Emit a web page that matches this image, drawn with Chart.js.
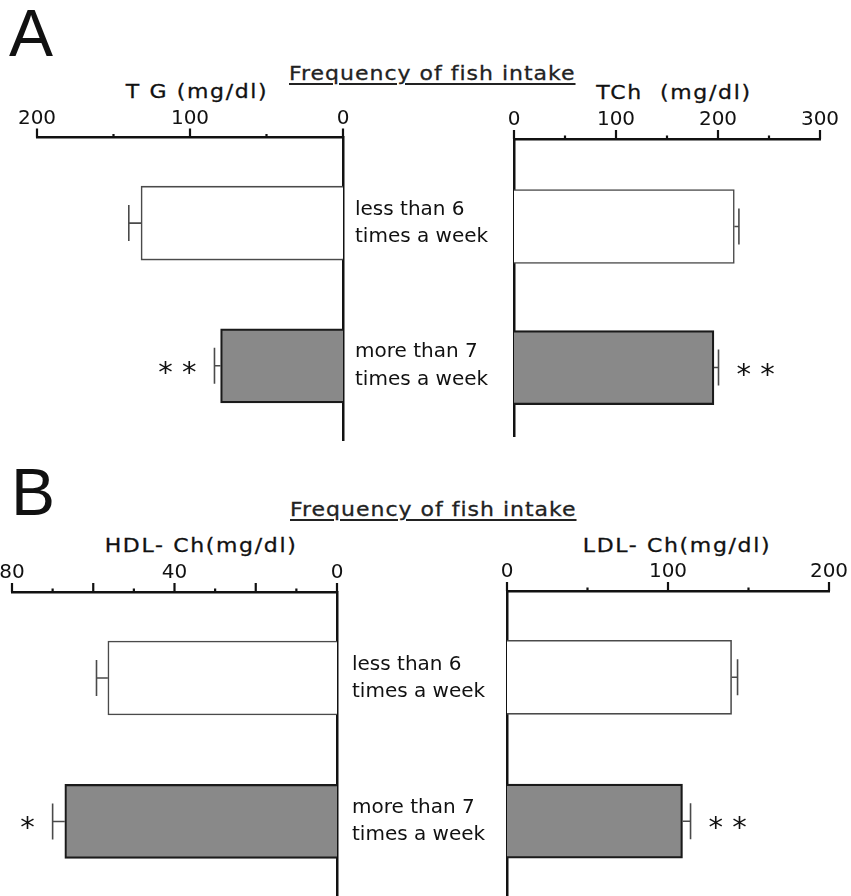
<!DOCTYPE html>
<html><head><meta charset="utf-8">
<script src="https://cdn.jsdelivr.net/npm/chart.js@4.4.1/dist/chart.umd.min.js"></script>
<style>
html,body{margin:0;padding:0;background:#fff;}
#wrap{position:relative;width:851px;height:896px;overflow:hidden;background:#fff;font-family:"DejaVu Sans",sans-serif;color:#111;}
canvas{position:absolute;}
.t{position:absolute;white-space:pre;line-height:1;transform:translate(-50%,-50%) scaleX(1.1);font-size:20px;letter-spacing:1.5px;-webkit-text-stroke:0.3px #111;}
.panel{position:absolute;font-family:"Liberation Sans",Arial,sans-serif;font-size:66px;line-height:1;color:#111;}
.head{position:absolute;font-size:20px;letter-spacing:0.9px;text-decoration:underline;text-underline-offset:3px;line-height:1;white-space:pre;color:#222;transform:scaleX(1.1);transform-origin:0 50%;-webkit-text-stroke:0.3px #222;}
</style></head>
<body><div id="wrap">
<div class="panel" style="left:9px;top:0px;">A</div>
<div class="panel" style="left:11px;top:459px;">B</div>
<div class="head" style="left:289px;top:63px;">Frequency of fish intake</div>
<div class="head" style="left:290px;top:499px;">Frequency of fish intake</div>
<div class="t" style="left:197px;top:91px;">T G (mg/dl)</div>
<div class="t" style="left:674px;top:92px;">TCh  (mg/dl)</div>
<div class="t" style="left:201px;top:545px;">HDL- Ch(mg/dl)</div>
<div class="t" style="left:677px;top:545px;">LDL- Ch(mg/dl)</div>
<canvas id="cA1" width="520" height="445" style="left:0;top:0;"></canvas>
<canvas id="cA2" width="381" height="445" style="left:470px;top:0;"></canvas>
<canvas id="cB1" width="520" height="446" style="left:0;top:450px;"></canvas>
<canvas id="cB2" width="381" height="446" style="left:470px;top:450px;"></canvas>
</div>
<script>
// ---- data ----
const categories = [['less than 6', 'times a week'], ['more than 7', 'times a week']];

const tgValues = [132, 80];
const tgErrors = [8, 4];
const tgStars = ['', '**'];

const tchValues = [216, 196];
const tchErrors = [4.5, 4.5];
const tchStars = ['', '**'];

const hdlValues = [56.4, 67.0];
const hdlErrors = [2.8, 3.0];
const hdlStars = ['', '*'];

const ldlValues = [139.5, 109];
const ldlErrors = [3.7, 5];
const ldlStars = ['', '**'];

const tgTickLabels = [0, 100, 200];
const tgMinorTicks = [50, 150];
const tchTickLabels = [0, 100, 200, 300];
const tchMinorTicks = [50, 150, 250];
const hdlTickLabels = [0, 40, 80];
const hdlMajorTicks = [0, 20, 40, 60, 80];
const hdlMinorTicks = [10, 30, 50, 70];
const ldlTickLabels = [0, 100, 200];
const ldlMinorTicks = [50, 150];

// ---- chart builder ----
function makeDecor(values, errors, stars, majors, minors) {
  return {
    id: 'decor',
    afterDraw(chart) {
      const ctx = chart.ctx;
      const xs = chart.scales.x, ys = chart.scales.y;
      ctx.save();
      // axis tick marks
      ctx.strokeStyle = '#111';
      ctx.lineWidth = 2.2;
      const yAxis = xs.bottom;
      ctx.beginPath();
      majors.forEach(v => { const px = xs.getPixelForValue(v); ctx.moveTo(px, yAxis); ctx.lineTo(px, yAxis - 9); });
      minors.forEach(v => { const px = xs.getPixelForValue(v); ctx.moveTo(px, yAxis); ctx.lineTo(px, yAxis - 3.5); });
      ctx.stroke();
      // error bars and significance marks
      values.forEach((v, i) => {
        const yc = ys.getPixelForValue(i);
        const x0 = xs.getPixelForValue(v);
        const x1 = xs.getPixelForValue(v + errors[i]);
        ctx.strokeStyle = '#4a4a4a';
        ctx.lineWidth = 1.6;
        ctx.beginPath();
        ctx.moveTo(x0, yc); ctx.lineTo(x1, yc);
        ctx.moveTo(x1, yc - 18); ctx.lineTo(x1, yc + 18);
        ctx.stroke();
        if (stars[i]) {
          const dir = x1 > x0 ? 1 : -1;
          ctx.fillStyle = '#111';
          ctx.font = '29px "DejaVu Sans"';
          ctx.textAlign = dir > 0 ? 'left' : 'right';
          ctx.textBaseline = 'alphabetic';
          ctx.fillText(stars[i].split('').join(' '), x1 + dir * 18, yc + 16);
        }
      });
      ctx.restore();
    }
  };
}

function makeChart(id, o) {
  const majors = o.majors;
  const minors = o.minors;
  const allTicks = majors.concat(minors).sort((a, b) => a - b);
  return new Chart(document.getElementById(id), {
    type: 'bar',
    data: {
      datasets: [{
        data: o.values.map((v, i) => ({ x: v, y: i })),
        backgroundColor: ['#ffffff', '#898989'],
        borderColor: ['#4a4a4a', '#1a1a1a'],
        borderWidth: [1.6, 2.2],
        barThickness: 74,
        borderSkipped: 'start'
      }]
    },
    options: {
      indexAxis: 'y',
      responsive: false,
      animation: false,
      events: [],
      layout: { padding: o.padding },
      plugins: { legend: { display: false }, tooltip: { enabled: false } },
      scales: {
        x: {
          type: 'linear', position: 'top', reverse: o.reverse, min: 0, max: o.max,
          afterBuildTicks: s => { s.ticks = allTicks.map(v => ({ value: v })); },
          ticks: {
            autoSkip: false, maxRotation: 0, padding: 0, color: '#111',
            font: { family: 'DejaVu Sans', size: 20, lineHeight: 1 },
            callback: v => o.labels.includes(v) ? String(v) : ''
          },
          grid: { display: false, drawTicks: true, tickLength: 9 },
          border: { display: true, color: '#111', width: 2.5 },
          afterFit: s => { s.height = o.xHeight; s.paddingLeft = 0; s.paddingRight = 0; }
        },
        y: {
          type: 'linear', position: o.yPos, reverse: true, min: o.yMin, max: o.yMax, offset: false,
          afterBuildTicks: s => { s.ticks = categories.map((c, i) => ({ value: i })); },
          ticks: {
            display: o.showCats, autoSkip: false, padding: o.catPad || 12, color: '#111',
            font: { family: 'DejaVu Sans', size: 20, lineHeight: 1.37 },
            callback: v => categories[v]
          },
          grid: { display: false, drawTicks: false },
          border: { display: true, color: '#111', width: 2.5 },
          afterFit: s => { s.width = o.yWidth; s.paddingTop = 0; s.paddingBottom = 0; }
        }
      }
    },
    plugins: [makeDecor(o.values, o.errors, o.stars, majors, minors)]
  });
}

makeChart('cA1', {
  values: tgValues, errors: tgErrors, stars: tgStars, reverse: true, max: 200,
  labels: tgTickLabels, majors: tgTickLabels, minors: tgMinorTicks,
  padding: { left: 37, top: 0, right: 0, bottom: 5 }, xHeight: 137.5, yWidth: 177,
  yPos: 'right', showCats: true, catPad: 12, yMin: -0.6, yMax: 1.52
});
makeChart('cA2', {
  values: tchValues, errors: tchErrors, stars: tchStars, reverse: false, max: 300,
  labels: tchTickLabels, majors: tchTickLabels, minors: tchMinorTicks,
  padding: { left: 0, top: 0, right: 31, bottom: 9 }, xHeight: 139, yWidth: 44,
  yPos: 'left', showCats: false, yMin: -0.62, yMax: 1.485
});
makeChart('cB1', {
  values: hdlValues, errors: hdlErrors, stars: hdlStars, reverse: true, max: 80,
  labels: hdlTickLabels, majors: hdlMajorTicks, minors: hdlMinorTicks,
  padding: { left: 12, top: 0, right: 0, bottom: 0 }, xHeight: 142, yWidth: 183,
  yPos: 'right', showCats: true, catPad: 15, yMin: -0.6, yMax: 1.52
});
makeChart('cB2', {
  values: ldlValues, errors: ldlErrors, stars: ldlStars, reverse: false, max: 200,
  labels: ldlTickLabels, majors: ldlTickLabels, minors: ldlMinorTicks,
  padding: { left: 0, top: 0, right: 22, bottom: 0 }, xHeight: 141, yWidth: 37,
  yPos: 'left', showCats: false, yMin: -0.6, yMax: 1.52
});
</script>
</body></html>
